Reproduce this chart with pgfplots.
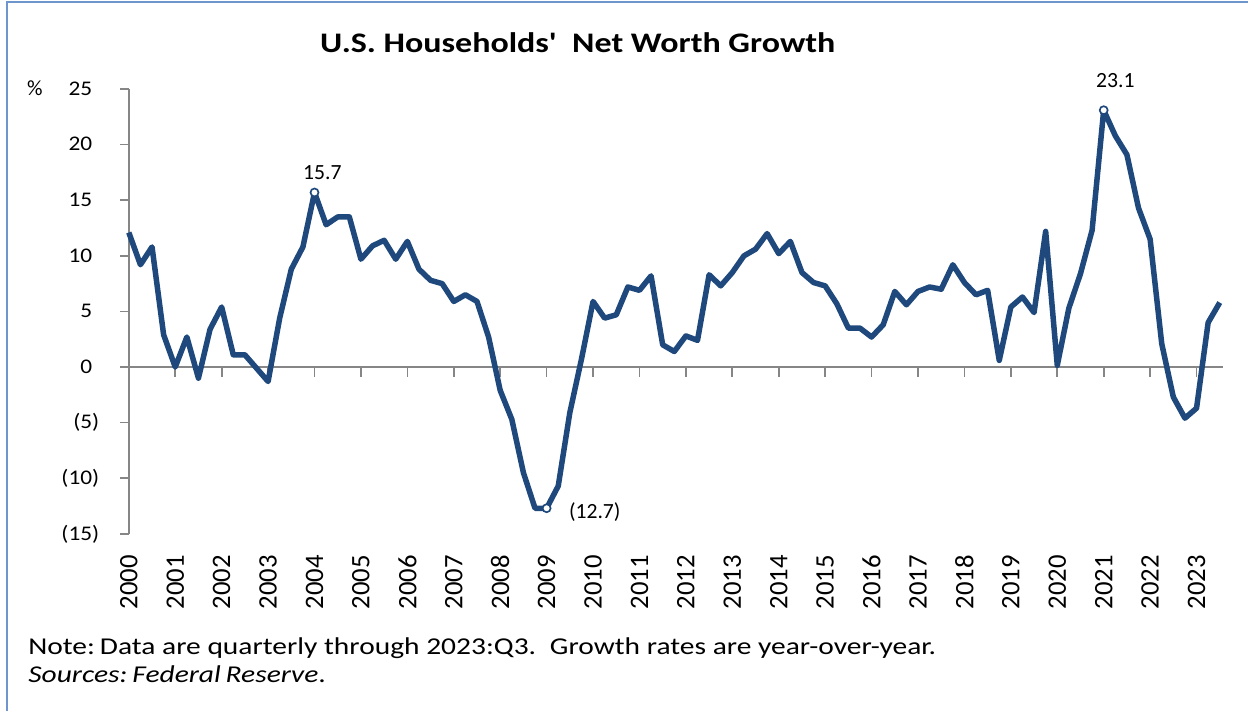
\documentclass[border=0pt]{standalone}
\usepackage{fontspec}
\setmainfont{Carlito}
\usepackage{pgfplots}
\pgfplotsset{compat=1.18}
\definecolor{navy}{RGB}{31,73,125}
\definecolor{axgray}{RGB}{134,134,134}
\definecolor{framebl}{RGB}{110,150,205}

% year-over-year growth, quarterly, 2000Q1 (q=0) .. 2023Q3 (q=94)
\pgfplotstableread{
q val
0 12.1
1 9.2
2 10.8
3 2.9
4 0.0
5 2.7
6 -1.0
7 3.4
8 5.4
9 1.1
10 1.1
11 -0.1
12 -1.3
13 4.4
14 8.8
15 10.8
16 15.7
17 12.8
18 13.5
19 13.5
20 9.7
21 10.9
22 11.4
23 9.7
24 11.3
25 8.8
26 7.8
27 7.5
28 5.9
29 6.5
30 5.9
31 2.7
32 -2.1
33 -4.7
34 -9.5
35 -12.7
36 -12.7
37 -10.7
38 -4.1
39 0.7
40 5.9
41 4.4
42 4.7
43 7.2
44 6.9
45 8.2
46 2.0
47 1.4
48 2.8
49 2.4
50 8.3
51 7.3
52 8.5
53 10.0
54 10.6
55 12.0
56 10.2
57 11.3
58 8.5
59 7.6
60 7.3
61 5.7
62 3.5
63 3.5
64 2.7
65 3.8
66 6.8
67 5.6
68 6.8
69 7.2
70 7.0
71 9.2
72 7.6
73 6.5
74 6.9
75 0.6
76 5.4
77 6.3
78 4.9
79 12.2
80 0.15
81 5.3
82 8.4
83 12.3
84 23.1
85 20.8
86 19.1
87 14.3
88 11.5
89 2.1
90 -2.7
91 -4.6
92 -3.7
93 4.0
94 5.8
}\networth

\newcommand{\pp}{\phantom{)}}

\begin{document}
\begin{tikzpicture}[x=0.6pt,y=0.6pt]
\path (0,0) rectangle (1249,711);
\draw[framebl, line width=0.8pt] (7,0) -- (7,709) -- (1249,709);
\node[anchor=base, font=\fontsize{17}{20}\selectfont\bfseries] at (578,711-53)
    {\scalebox{1.2}[1]{U.S. Households\textquotesingle\ \ Net Worth Growth}};
\node[anchor=base, font=\fontsize{13}{16}\selectfont] at (35,711-96) {\%};
\node[anchor=base west, inner sep=0pt, font=\fontsize{14.5}{17}\selectfont] at (28,711-655)
    {\scalebox{1.22}[1]{Note:\,Data are quarterly through 2023:Q3. \,Growth rates are year-over-year.}};
\node[anchor=base west, inner sep=0pt, font=\fontsize{14.5}{17}\selectfont] at (28,711-683)
    {\scalebox{1.22}[1]{\textit{Sources:\,Federal\,Reserve}.}};
\begin{axis}[
    at={(111,159)}, anchor=south west,
    scale only axis,
    width=657pt, height=267pt,
    xmin=0, xmax=94.3,
    ymin=-15, ymax=25,
    clip=false,
    axis lines*=left,
    x axis line style={draw=none},
    y axis line style={axgray, line width=1pt, -},
    xtick={0,4,...,92},
    xticklabels={2000,2001,2002,2003,2004,2005,2006,2007,2008,2009,2010,2011,2012,2013,2014,2015,2016,2017,2018,2019,2020,2021,2022,2023},
    xtick style={draw=none},
    xticklabel style={rotate=90, anchor=east, xshift=-4pt, font=\fontsize{16}{18}\selectfont},
    ytick={-15,-10,...,25},
    yticklabels={(15),(10),(5),0\pp,5\pp,10\pp,15\pp,20\pp,25\pp},
    yticklabel style={font=\fontsize{12.5}{15}\selectfont, xscale=1.12, xshift=-7.5pt},
    ytick style={axgray, line width=1pt},
    tick align=outside,
    major tick length=5.4pt,
]
% zero line and year ticks hanging below it
\addplot[axgray, line width=1pt] coordinates {(0,0) (94.3,0)};
\addplot[axgray, line width=1pt, ycomb, no marks] coordinates {
(0,-0.9) (4,-0.9) (8,-0.9) (12,-0.9) (16,-0.9) (20,-0.9) (24,-0.9) (28,-0.9)
(32,-0.9) (36,-0.9) (40,-0.9) (44,-0.9) (48,-0.9) (52,-0.9) (56,-0.9) (60,-0.9)
(64,-0.9) (68,-0.9) (72,-0.9) (76,-0.9) (80,-0.9) (84,-0.9) (88,-0.9) (92,-0.9)};
\addplot[navy, line width=3.3pt, no marks, line join=round] table[x=q, y=val] {\networth};
\addplot[only marks, mark=*, mark size=2.4pt, mark options={fill=white, draw=navy, line width=1pt}]
    coordinates {(16,15.7) (36,-12.7) (84,23.1)};
\node[anchor=base, font=\fontsize{13}{16}\selectfont] at (axis cs:16.67,16.85) {15.7};
\node[anchor=west, inner sep=0pt, font=\fontsize{13}{16}\selectfont] at (axis cs:37.9,-13.0) {(12.7)};
\node[anchor=base, font=\fontsize{13}{16}\selectfont] at (axis cs:85.0,25.1) {23.1};
\end{axis}
\end{tikzpicture}
\end{document}
